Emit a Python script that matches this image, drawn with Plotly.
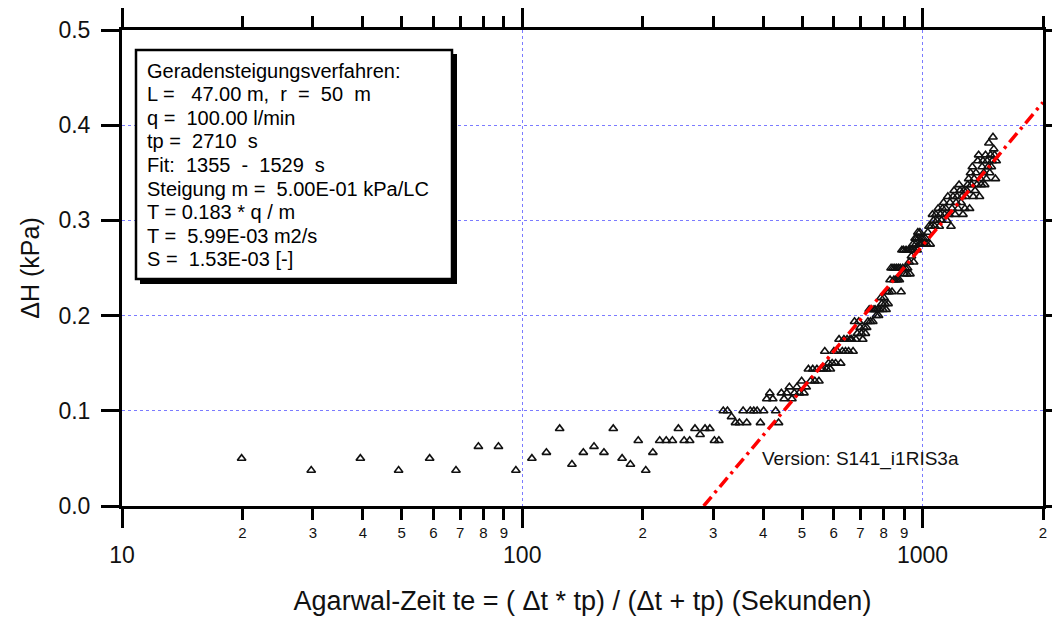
import math
import plotly.graph_objects as go

# ---------------- data ----------------
te_s = [
    19.9, 29.7, 39.4, 49.1, 58.7, 68.3, 77.7, 87.2, 96.4, 105.7,
    114.9, 124.0, 133.1, 142.1, 151.1, 160.0, 168.8, 177.6, 186.3, 194.9,
    203.5, 212.0, 220.5, 228.9, 237.2, 245.5, 253.8, 262.0, 270.1, 278.2,
    286.2, 294.2, 302.1, 309.9, 317.8, 325.6, 333.3,
    341.0, 348.7, 356.3, 363.8, 371.3, 378.8, 386.2, 393.6, 400.9, 408.2,
    415.4, 422.6, 429.8, 436.9, 444.0, 451.0, 458.0, 464.9, 471.8, 478.7,
    485.5, 492.2, 498.9, 505.6, 512.2, 518.7, 525.3, 531.8, 538.3, 544.7,
    551.1, 557.4, 563.7, 570.0, 576.2, 582.4, 588.5, 594.6, 600.7, 606.7,
    612.7, 618.7, 624.6, 630.5, 636.3, 642.1, 647.9, 653.7, 659.4, 665.0,
    670.7, 676.3, 681.9, 687.4, 692.9, 698.4, 703.8, 709.2, 714.6, 720.0,
    725.3, 730.6, 735.8, 741.0, 746.2, 751.4, 756.5, 761.6, 766.7, 771.7,
    776.7, 781.7, 786.6, 791.5, 796.4, 801.3, 806.1, 810.9, 815.7, 820.4,
    825.1, 829.8, 834.5, 839.1, 843.7, 848.3, 852.8, 857.4, 861.9, 866.3,
    870.8, 875.2, 879.6, 883.9, 888.3, 892.6, 896.9, 901.1, 905.4, 909.6,
    913.8, 917.9, 922.1, 926.2, 930.3, 934.3, 938.4, 942.4, 946.4, 950.3,
    954.3, 958.2, 962.1, 965.9, 969.8, 973.6, 977.4, 981.1, 984.9, 988.6,
    992.3, 996.0,
    1003, 1010, 1017, 1024, 1031, 1038, 1045, 1052, 1059, 1066,
    1073, 1080, 1087, 1094, 1101, 1108, 1115, 1122, 1129, 1136,
    1143, 1150, 1157, 1164, 1171, 1178, 1185, 1192, 1199, 1206,
    1213, 1220, 1227, 1234, 1241, 1248, 1255, 1262, 1269, 1276,
    1283, 1290, 1297, 1304, 1311, 1318, 1325, 1332, 1339, 1346,
    1353, 1360, 1367, 1374, 1381, 1388, 1395, 1402, 1409, 1416,
    1423, 1430, 1437, 1444, 1451, 1458, 1465, 1472, 1479, 1486,
    1493, 1500, 1507, 1514, 1521, 1528,
]
dh_kpa = [
    0.05, 0.0375, 0.05, 0.0375, 0.05, 0.0375, 0.0625, 0.0625, 0.0375, 0.05,
    0.05625, 0.08125, 0.04375, 0.05625, 0.0625, 0.05625, 0.08125, 0.05, 0.04375, 0.06875,
    0.0375, 0.05625, 0.06875, 0.06875, 0.06875, 0.08125, 0.06875, 0.06875, 0.08125, 0.075,
    0.08125, 0.08125, 0.06875, 0.06875, 0.1, 0.1, 0.09375,
    0.0875, 0.0875, 0.1, 0.0875, 0.1, 0.1, 0.1, 0.0875, 0.1, 0.1125,
    0.11875, 0.1125, 0.1, 0.0875, 0.11875, 0.1125, 0.11875, 0.125, 0.1125, 0.11875,
    0.125, 0.11875, 0.13125, 0.11875, 0.125, 0.14375, 0.13125, 0.14375, 0.13125, 0.14375,
    0.13125, 0.14375, 0.14375, 0.1625, 0.14375, 0.15, 0.14375, 0.15, 0.1625, 0.15,
    0.1625, 0.175, 0.15, 0.1625, 0.175, 0.1625, 0.175, 0.1625, 0.175, 0.175,
    0.1625, 0.19375, 0.175, 0.18125, 0.19375, 0.1875, 0.18125, 0.175, 0.1875, 0.18125,
    0.1875, 0.19375, 0.20625, 0.19375, 0.20625, 0.19375, 0.20625, 0.20625, 0.2, 0.20625,
    0.2, 0.20625, 0.21875, 0.2125, 0.20625, 0.21875, 0.2125, 0.20625, 0.225, 0.2125,
    0.225, 0.2375, 0.25, 0.225, 0.25, 0.2375, 0.25, 0.2375, 0.25, 0.2375,
    0.25, 0.2375, 0.25, 0.225, 0.26875, 0.25, 0.26875, 0.24375, 0.25, 0.26875,
    0.24375, 0.25, 0.26875, 0.25625, 0.24375, 0.26875, 0.2625, 0.26875, 0.275, 0.25625,
    0.26875, 0.28125, 0.275, 0.28125, 0.26875, 0.2875, 0.28125, 0.275, 0.2875, 0.275,
    0.28125, 0.275,
    0.28125, 0.275, 0.28125, 0.275, 0.2875, 0.29375, 0.275, 0.29375, 0.30625, 0.3,
    0.29375, 0.30625, 0.3, 0.3125, 0.29375, 0.30625, 0.3, 0.3125, 0.31875, 0.30625,
    0.3125, 0.3, 0.325, 0.30625, 0.31875, 0.29375, 0.3125, 0.325, 0.33125, 0.30625,
    0.31875, 0.325, 0.3125, 0.3375, 0.33125, 0.31875, 0.325, 0.30625, 0.33125, 0.3125,
    0.325, 0.33125, 0.3375, 0.34375, 0.3125, 0.35, 0.3375, 0.35625, 0.325, 0.34375,
    0.33125, 0.35, 0.3375, 0.3625, 0.36875, 0.325, 0.34375, 0.3375, 0.35625, 0.3625,
    0.35, 0.3375, 0.36875, 0.34375, 0.3625, 0.35625, 0.38125, 0.35, 0.36875, 0.35625,
    0.3625, 0.3875, 0.375, 0.36875, 0.34375, 0.3625,
]

# straight-line fit (Geradensteigung), end points
fit_te = [284, 2000]
fit_dh = [0.0, 0.424]

x_major = [10, 100, 1000]
x_major_text = ["10", "100", "1000"]
x_minor = [20, 30, 40, 50, 60, 70, 80, 90,
           200, 300, 400, 500, 600, 700, 800, 900, 2000]
x_minor_text = ["2", "3", "4", "5", "6", "7", "8", "9",
                "2", "3", "4", "5", "6", "7", "8", "9", "2"]
y_ticks = [0.0, 0.1, 0.2, 0.3, 0.4, 0.5]
x_range = [10, 2000]
y_range = [0.0, 0.5]

x_title = "Agarwal-Zeit te = ( \u0394t * tp) / (\u0394t + tp) (Sekunden)"
y_title = "\u0394H (kPa)"

box_lines = [
    "Geradensteigungsverfahren:",
    "L =   47.00 m,  r  =  50  m",
    "q =  100.00 l/min",
    "tp =  2710  s",
    "Fit:  1355  -  1529  s",
    "Steigung m =  5.00E-01 kPa/LC",
    "T = 0.183 * q / m",
    "T =  5.99E-03 m2/s",
    "S =  1.53E-03 [-]",
]
version_text = "Version: S141_i1RIS3a"

# ---------------- layout geometry (pixels) ----------------
W, H = 1052, 617
ML, MR, MT, MB = 122, 9, 30, 111
PW, PH = W - ML - MR, H - MT - MB
FONT = "Liberation Sans, Arial, sans-serif"
GRID = "#7b7bff"


def px(xp):
    return (xp - ML) / PW


def py(yp):
    return (H - MB - yp) / PH


fig = go.Figure()
fig.add_trace(go.Scatter(
    x=te_s, y=dh_kpa, mode="markers", xaxis="x", yaxis="y",
    marker=dict(symbol="triangle-up-open", size=7.5, color="#111111",
                line=dict(width=1.6)),
    showlegend=False, hoverinfo="x+y"))
fig.add_trace(go.Scatter(
    x=fit_te, y=fit_dh, mode="lines", xaxis="x2", yaxis="y",
    line=dict(color="#ff0000", width=3.5, dash="12px,5px,3px,5px"),
    showlegend=False))

lx = [math.log10(v) for v in x_range]

fig.update_layout(
    width=W, height=H,
    margin=dict(l=ML, r=MR, t=MT, b=MB, pad=0, autoexpand=False),
    paper_bgcolor="white", plot_bgcolor="white",
    font=dict(family=FONT, color="black"),
    xaxis=dict(
        type="log", range=lx, tickvals=x_minor, ticktext=x_minor_text,
        ticks="outside", ticklen=11, tickwidth=2.5, tickcolor="black",
        showline=True, linewidth=3, linecolor="black", mirror="ticks",
        showgrid=False, zeroline=False, automargin=False,
        tickfont=dict(size=15, family=FONT, color="#111"),
        ticklabelstandoff=0,
    ),
    xaxis2=dict(
        type="log", range=lx, overlaying="x", side="bottom", anchor="y",
        tickvals=x_major, ticktext=x_major_text,
        ticks="outside", ticklen=19, tickwidth=3, tickcolor="black",
        showline=True, linewidth=3, linecolor="black", mirror="ticks",
        showgrid=True, gridcolor=GRID, gridwidth=1, griddash="dot",
        zeroline=False, automargin=False,
        tickfont=dict(size=23, family=FONT, color="#111"),
        ticklabelstandoff=7,
        title=dict(text=x_title, font=dict(size=27, family=FONT, color="#111"),
                   standoff=25),
    ),
    yaxis=dict(
        range=y_range, tickvals=y_ticks, tickformat=".1f",
        ticks="outside", ticklen=18, tickwidth=3, tickcolor="black",
        showline=True, linewidth=3, linecolor="black", mirror="ticks",
        showgrid=True, gridcolor=GRID, gridwidth=1, griddash="dot",
        zeroline=False, automargin=False,
        tickfont=dict(size=23, family=FONT, color="#111"),
        ticklabelstandoff=6,
        title=dict(text=y_title, font=dict(size=25, family=FONT, color="#111"),
                   standoff=12),
    ),
)

# parameter box with drop shadow
fig.add_shape(type="rect", xref="paper", yref="paper",
              x0=px(140), x1=px(457), y0=py(284), y1=py(54),
              fillcolor="black", line=dict(width=0), layer="above")
fig.add_shape(type="rect", xref="paper", yref="paper",
              x0=px(136), x1=px(452), y0=py(279), y1=py(50),
              fillcolor="white", line=dict(color="black", width=2.5),
              layer="above")
for i, line in enumerate(box_lines):
    fig.add_annotation(xref="paper", yref="paper", x=px(145), y=py(71 + 23.5 * i),
                       xanchor="left", yanchor="middle", showarrow=False,
                       text=line, font=dict(size=20, family=FONT, color="black"))

fig.add_annotation(xref="paper", yref="paper", x=px(760), y=py(459),
                   xanchor="left", yanchor="middle", showarrow=False,
                   text=version_text, font=dict(size=19, family=FONT, color="#111"))

fig.write_html("out.html")
